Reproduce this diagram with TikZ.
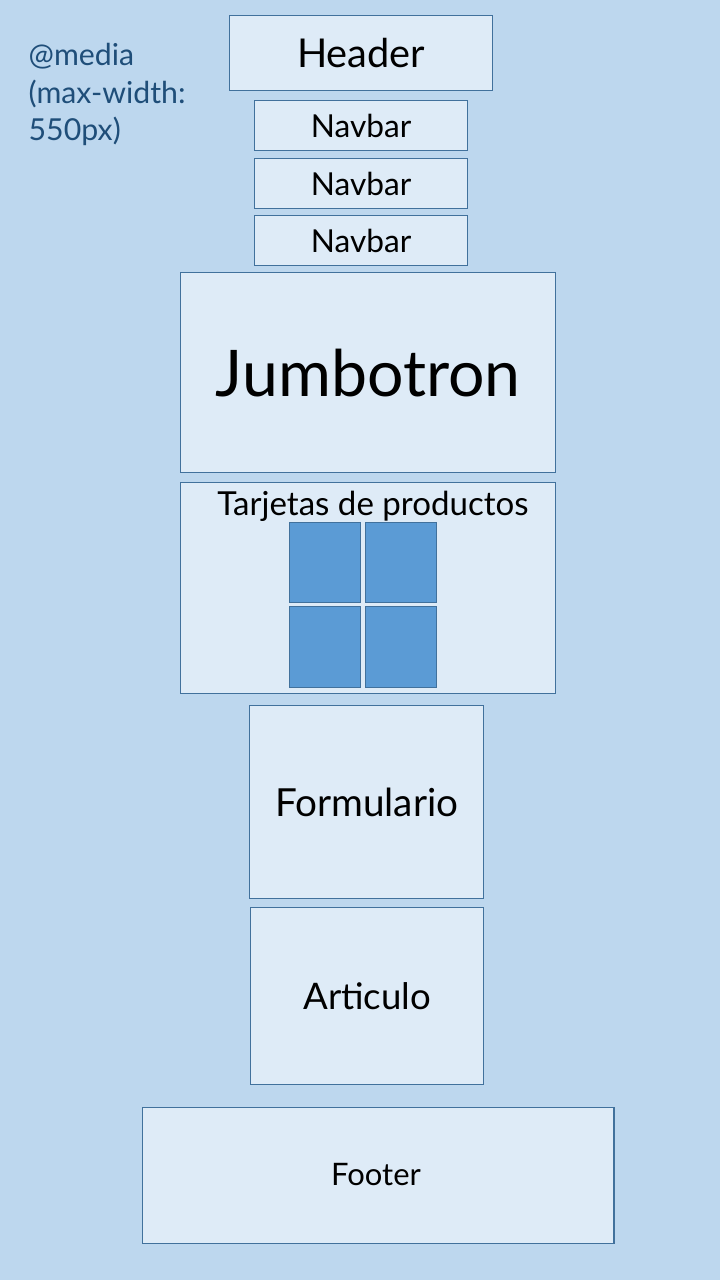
\documentclass[tikz,border=0pt]{standalone}
\usepackage{fontspec}
\setmainfont{Lato}
\definecolor{page}{RGB}{189,215,238}
\definecolor{pane}{RGB}{222,235,247}
\definecolor{edge}{RGB}{65,113,156}
\definecolor{card}{RGB}{91,155,213}
\definecolor{mediatxt}{RGB}{31,78,121}
\usetikzlibrary{positioning}
\tikzset{
  box/.style={draw=edge,line width=0.35pt,fill=pane,inner sep=0pt,anchor=north west},
  navbox/.style={box,minimum width=2.13cm,minimum height=0.50cm,font=\fontsize{9}{11}\selectfont},
  cardbox/.style={draw=edge,line width=0.35pt,fill=card,anchor=north west,
                  minimum width=0.71cm,minimum height=0.80cm,inner sep=0pt},
  lbl/.style={inner sep=0pt,text=black},
}

\begin{document}
\begin{tikzpicture}[x=0.01cm,y=-0.01cm]
    \fill[page] (0,0) rectangle (720,1280);
    \useasboundingbox (0,0) rectangle (720,1280);
    \node[inner sep=0pt,anchor=north west,align=left,text=mediatxt,
          font=\fontsize{8.6}{10.6}\selectfont] (media) at (28,43) {@media\\(max-width:\\550px)};
    \node[box,minimum width=2.63cm,minimum height=0.75cm,font=\fontsize{11.3}{14}\selectfont] (header) at (229,15) {Header};
    \node[navbox] (nav1) at (254,100) {Navbar};
    \node[navbox] (nav2) at (254,158) {Navbar};
    \node[navbox] (nav3) at (254,215) {Navbar};
    \node[box,minimum width=3.75cm,minimum height=2.00cm,font=\fontsize{18.3}{22}\selectfont] (jumbo) at (180,272) {Jumbotron};
    % tarjetas con las cuatro cajas
    \node[box,minimum width=3.75cm,minimum height=2.11cm] (cards) at (180,482) {};
    \node[lbl,font=\fontsize{9.4}{11}\selectfont] (cardsttl) at (373,506) {Tarjetas de productos};
    \node[cardbox] (c1) at (289,522) {};
    \node[cardbox] (c2) at (365,522) {};
    \node[cardbox,minimum height=0.81cm] (c3) at (289,606) {};
    \node[cardbox,minimum height=0.81cm] (c4) at (365,606) {};
    \node[box,minimum width=2.34cm,minimum height=1.93cm,font=\fontsize{11}{13}\selectfont] (form) at (249,705) {Formulario};
    \node[box,minimum width=2.33cm,minimum height=1.77cm,font=\fontsize{10.4}{12}\selectfont] (art) at (250,907) {Articulo};
    \node[box,minimum width=4.71cm,minimum height=1.36cm] (foot) at (142,1107) {};
    \node[lbl,font=\fontsize{8.8}{11}\selectfont] (foottxt) at (376,1175) {Footer};
  \end{tikzpicture}
\end{document}
